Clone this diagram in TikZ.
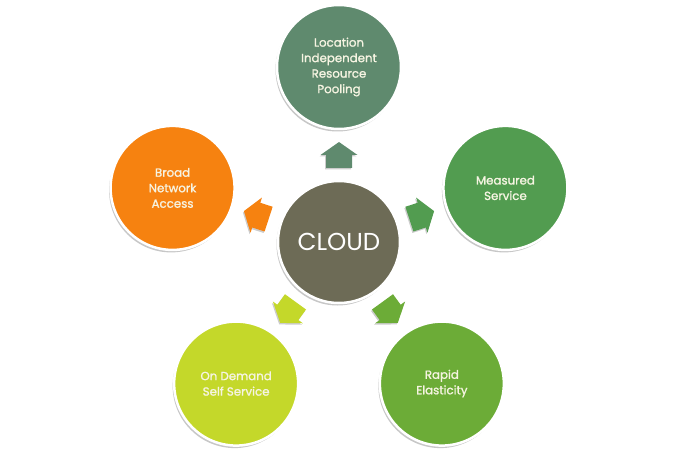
\documentclass[tikz,border=0pt]{standalone}
\usepackage{fontspec}
\setmainfont{Poppins}[FakeBold=1.3]
\newfontfamily\cloudfont{Poppins}
\usetikzlibrary{shadows,calc}
\definecolor{cpool}{RGB}{95,138,110}
\definecolor{ccloud}{RGB}{109,107,86}
\definecolor{cbroad}{RGB}{246,130,16}
\definecolor{cmeas}{RGB}{82,156,80}
\definecolor{cdemand}{RGB}{196,216,42}
\definecolor{crapid}{RGB}{108,172,55}
\definecolor{ctext}{RGB}{246,244,226}
\tikzset{
  ball/.style={circle, minimum size=124pt, inner sep=0pt, draw=white, line width=2.5pt,
    text=ctext, align=center, font=\fontsize{11.8}{15.5}\selectfont,
    drop shadow={shadow xshift=-1.5pt, shadow yshift=-2.5pt, opacity=0.22, fill=black}},
  arr/.style={draw=none, drop shadow={shadow xshift=-1pt, shadow yshift=-1.5pt, opacity=0.2, fill=black}}
}
\newcommand{\housearrow}[3]{%
  \path[arr, fill=#3, shift={(#1)}, rotate=#2]
    (-13,-13) -- (0,-13) -- (0,-18.5) -- (13,0) -- (0,18.5) -- (0,13) -- (-13,13) -- cycle;}
\begin{document}
\begin{tikzpicture}[x=1pt,y=1pt]
\useasboundingbox (0,0) rectangle (680,453);
\coordinate (c) at (339,211);
\node[ball, fill=ccloud, minimum size=122pt, text=white, font=\cloudfont\fontsize{24.5}{27}\selectfont] (cloud) at (c) {CLOUD};
\node[ball, fill=cpool] (pool) at ($(c)+(90:175)$) {Location\\Independent\\Resource\\Pooling};
\node[ball, fill=cbroad] (broad) at ($(c)+(162:175)$) {Broad\\Network\\Access};
\node[ball, fill=cmeas] (measured) at ($(c)+(18:175)$) {Measured\\Service};
\node[ball, fill=cdemand] (demand) at ($(c)+(234:175)$) {On Demand\\Self Service};
\node[ball, fill=crapid] (rapid) at ($(c)+(306:175)$) {Rapid\\Elasticity};
\coordinate (a1) at ($(c)+(90:87)$);
\coordinate (a2) at ($(c)+(162:87)$);
\coordinate (a3) at ($(c)+(18:87)$);
\coordinate (a4) at ($(c)+(234:87)$);
\coordinate (a5) at ($(c)+(306:87)$);
\housearrow{a1}{90}{cpool}
\housearrow{a2}{162}{cbroad}
\housearrow{a3}{18}{cmeas}
\housearrow{a4}{234}{cdemand}
\housearrow{a5}{306}{crapid}
\end{tikzpicture}
\end{document}
